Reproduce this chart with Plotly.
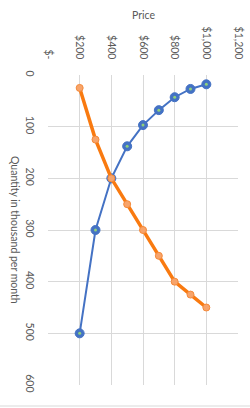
import plotly.graph_objects as go

price = [200, 300, 400, 500, 600, 700, 800, 900, 1000]
demand_qty = [500, 300, 200, 138, 97, 68, 43, 27, 18]
supply_qty = [25, 125, 200, 250, 300, 350, 400, 425, 450]

x_tickvals = [0, 200, 400, 600, 800, 1000, 1200]
x_ticktext = ["$-", "$200", "$400", "$600", "$800", "$1,000", "$1,200"]
y_tickvals = [0, 100, 200, 300, 400, 500, 600]

FONT = "Lato"
FS = 10.5
GRAY = "#595959"

fig = go.Figure()
fig.add_trace(go.Scatter(
    x=price, y=demand_qty, mode="lines+markers",
    line=dict(color="#4472C4", width=2),
    marker=dict(size=9, color="#4472C4", line=dict(color="#4472C4", width=1)),
    name="Demand"))
fig.add_trace(go.Scatter(
    x=price, y=demand_qty, mode="markers",
    marker=dict(size=3, color="#8FD17A", symbol="circle"),
    hoverinfo="skip", name="Demand centre"))
fig.add_trace(go.Scatter(
    x=price, y=supply_qty, mode="lines+markers",
    line=dict(color="#F97A10", width=3.5),
    marker=dict(size=7, color="#F7A46B", line=dict(color="#F58A3A", width=1)),
    name="Supply"))

fig.update_layout(
    width=250, height=408,
    margin=dict(l=48, r=12, t=75, b=23, autoexpand=False),
    paper_bgcolor="white", plot_bgcolor="white",
    showlegend=False,
    font=dict(family=FONT, size=FS, color=GRAY),
    xaxis=dict(side="top", range=[0, 1200], tickvals=x_tickvals, ticktext=x_ticktext,
               tickangle=90, showgrid=True, gridcolor="#D9D9D9", gridwidth=1,
               zeroline=False, showline=False, ticks="", ticklabelstandoff=13,
               automargin=False, tickfont=dict(family=FONT, size=FS, color=GRAY)),
    yaxis=dict(range=[600, 0], tickvals=y_tickvals, tickangle=90,
               showgrid=True, gridcolor="#D9D9D9", gridwidth=1,
               zeroline=False, showline=False, ticks="", ticklabelstandoff=10,
               automargin=False, tickfont=dict(family=FONT, size=FS, color=GRAY)),
)
pw, ph = 190, 310
fig.add_annotation(text="Price", x=(143 - 48) / pw, y=(385 - 15) / ph,
                   xref="paper", yref="paper", xanchor="center", yanchor="middle",
                   showarrow=False, font=dict(family=FONT, size=FS, color=GRAY))
fig.add_annotation(text="Quantity in thousand per month", x=(15 - 48) / pw, y=(385 - 230) / ph,
                   xref="paper", yref="paper", xanchor="center", yanchor="middle",
                   showarrow=False, textangle=90, font=dict(family=FONT, size=FS, color=GRAY))
fig.add_shape(type="line", xref="paper", yref="paper",
              x0=-48 / pw, x1=202 / pw, y0=-(406 - 385) / ph, y1=-(406 - 385) / ph,
              line=dict(color="#D9D9D9", width=1))
fig.write_html("out.html")
